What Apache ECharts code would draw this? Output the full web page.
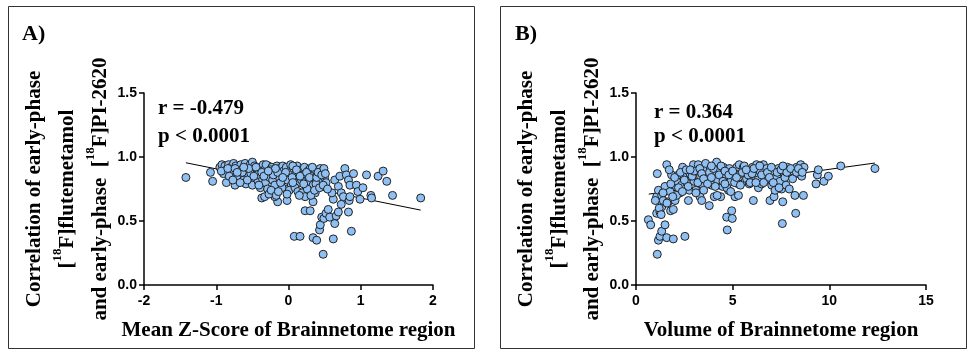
<!DOCTYPE html>
<html>
<head>
<meta charset="utf-8">
<script src="https://cdn.jsdelivr.net/npm/echarts@6/dist/echarts.min.js"></script>
<style>
  html, body { margin: 0; padding: 0; background: #fff; }
  #chart { width: 969px; height: 355px; }
</style>
</head>
<body>
<div id="chart"></div>
<script>
// panel A: mean z-score vs correlation
const scatterA = [
  [-1.42,0.84],[-1.08,0.88],[-1.05,0.81],[-0.86,0.80],[-0.74,0.78],[-0.39,0.77],[-0.37,0.68],[-0.33,0.69],
  [-0.15,0.65],[-0.19,0.69],[-0.02,0.66],[0.08,0.38],[0.16,0.38],[0.23,0.58],[0.30,0.58],[0.34,0.65],
  [0.37,0.72],[0.34,0.37],[0.39,0.35],[0.43,0.43],[0.44,0.47],[0.46,0.53],[0.48,0.24],[0.49,0.52],
  [0.52,0.56],[0.55,0.59],[0.57,0.53],[0.62,0.36],[0.64,0.48],[0.66,0.54],[0.69,0.57],[0.62,0.67],
  [0.60,0.72],[0.64,0.82],[0.71,0.85],[0.69,0.77],[0.73,0.72],[0.76,0.69],[0.73,0.63],[0.78,0.91],
  [0.80,0.86],[0.83,0.82],[0.85,0.78],[0.83,0.57],[0.84,0.66],[0.85,0.69],[0.87,0.42],[0.90,0.87],
  [0.94,0.78],[0.96,0.73],[0.99,0.67],[1.03,0.76],[1.08,0.86],[1.14,0.70],[1.15,0.68],[1.24,0.85],
  [1.31,0.89],[1.36,0.81],[1.44,0.70],[1.83,0.68],
  [-0.95,0.92],[-0.92,0.94],[-0.88,0.93],[-0.86,0.90],[-0.90,0.87],
  [-0.83,0.94],[-0.80,0.92],[-0.78,0.88],[-0.76,0.95],[-0.82,0.85],
  [-0.73,0.93],[-0.70,0.90],[-0.68,0.87],[-0.72,0.84],[-0.66,0.94],
  [-0.63,0.91],[-0.60,0.95],[-0.58,0.88],[-0.62,0.82],[-0.56,0.85],[-0.59,0.79],
  [-0.53,0.94],[-0.50,0.96],[-0.48,0.90],[-0.52,0.87],[-0.46,0.83],[-0.50,0.78],[-0.47,0.93],
  [-0.43,0.89],[-0.40,0.86],[-0.38,0.92],[-0.42,0.81],[-0.36,0.83],[-0.39,0.76],[-0.35,0.94],
  [-0.33,0.90],[-0.30,0.87],[-0.28,0.93],[-0.32,0.80],[-0.26,0.84],[-0.29,0.75],[-0.31,0.94],[-0.27,0.71],
  [-0.23,0.92],[-0.20,0.88],[-0.18,0.85],[-0.22,0.82],[-0.16,0.93],[-0.19,0.78],[-0.24,0.74],[-0.17,0.70],
  [-0.13,0.91],[-0.10,0.87],[-0.08,0.93],[-0.12,0.83],[-0.06,0.80],[-0.09,0.76],[-0.14,0.73],[-0.07,0.89],
  [-0.03,0.92],[0.00,0.86],[0.02,0.89],[-0.02,0.82],[0.04,0.78],[0.01,0.74],[0.03,0.94],
  [0.07,0.91],[0.10,0.87],[0.12,0.93],[0.08,0.83],[0.14,0.80],[0.09,0.76],[0.13,0.73],
  [0.17,0.90],[0.20,0.86],[0.22,0.92],[0.18,0.82],[0.24,0.77],[0.19,0.72],[0.23,0.69],
  [0.27,0.89],[0.30,0.91],[0.32,0.85],[0.28,0.81],[0.34,0.78],[0.26,0.75],[0.31,0.70],
  [0.37,0.90],[0.40,0.86],[0.42,0.82],[0.38,0.79],[0.44,0.91],[0.36,0.74],[0.43,0.76],
  [0.47,0.89],[0.50,0.84],[0.52,0.80],[0.48,0.78],[0.54,0.75],
  [-0.93,0.89],[-0.84,0.91],[-0.74,0.91],[-0.64,0.88],[-0.55,0.91],[-0.45,0.92],[-0.44,0.86],[-0.37,0.88],
  [-0.34,0.85],[-0.25,0.90],[-0.21,0.86],[-0.15,0.88],[-0.11,0.80],[-0.04,0.88],[0.05,0.84],[0.06,0.93],
  [0.11,0.90],[0.16,0.85],[0.21,0.79],[0.25,0.88],[0.29,0.84],[0.33,0.92],[0.39,0.84],[0.41,0.88],
  [0.46,0.86],[0.49,0.91],[0.51,0.87],[-0.57,0.82],[-0.67,0.80],[-0.77,0.82],[-0.41,0.78],[-0.02,0.71],
  [0.15,0.70],[0.06,0.80],[-0.08,0.84],[-0.18,0.91],[-0.28,0.89],[-0.48,0.85],[-0.62,0.92],[-0.71,0.88]
];
const fitA = [[-1.42, 0.955], [1.83, 0.585]];

// panel B: region volume vs correlation
const scatterB = [
  [0.64,0.51],[0.76,0.47],[1.10,0.24],[1.16,0.35],[1.24,0.38],[1.33,0.42],[1.50,0.47],[1.59,0.37],
  [1.93,0.36],[2.53,0.38],[1.07,0.56],[1.24,0.57],[1.33,0.61],[1.21,0.66],[1.07,0.69],[1.10,0.87],
  [1.16,0.74],[1.33,0.70],[1.41,0.66],[1.50,0.77],[1.59,0.94],[1.67,0.65],[1.76,0.73],[1.79,0.58],
  [1.93,0.59],[1.84,0.86],[1.72,0.90],[1.97,0.78],[2.02,0.66],[2.10,0.81],[2.19,0.86],[2.28,0.72],
  [2.36,0.78],[2.41,0.92],[2.48,0.85],[2.62,0.80],[2.71,0.66],[2.76,0.74],[2.79,0.87],[2.97,0.94],
  [3.00,0.81],[3.10,0.74],[3.14,0.89],[3.22,0.94],[3.31,0.69],[3.34,0.85],[3.40,0.66],[3.48,0.77],
  [3.57,0.91],[3.66,0.82],[3.79,0.62],[3.83,0.92],[3.91,0.78],[4.00,0.86],[4.05,0.69],[4.17,0.96],
  [4.21,0.82],[4.31,0.90],[4.38,0.69],[4.48,0.77],[4.52,0.92],[4.66,0.85],[4.69,0.53],[4.72,0.43],
  [4.78,0.74],[4.83,0.91],[4.90,0.81],[4.95,0.58],[4.98,0.52],[5.07,0.85],[5.12,0.69],[5.21,0.92],
  [5.29,0.79],[5.34,0.94],[5.41,0.87],[5.55,0.92],[5.64,0.81],[5.72,0.83],[5.86,0.79],[5.93,0.89],
  [6.03,0.92],[6.07,0.66],[6.16,0.85],[6.24,0.94],[6.33,0.76],[6.41,0.89],[6.50,0.79],[6.59,0.94],
  [6.67,0.86],[6.76,0.91],[6.84,0.82],[6.93,0.66],[7.02,0.78],[7.07,0.89],[7.14,0.69],[7.19,0.74],
  [7.28,0.85],[7.36,0.91],[7.45,0.81],[7.53,0.75],[7.59,0.65],[7.57,0.48],[7.66,0.87],[7.76,0.78],
  [7.83,0.92],[7.93,0.75],[8.00,0.85],[8.14,0.89],[8.22,0.70],[8.26,0.56],[8.31,0.92],[8.40,0.87],
  [8.52,0.94],[8.57,0.85],[8.66,0.70],[8.69,0.92],[9.31,0.79],[9.38,0.86],[9.43,0.90],[9.72,0.81],
  [9.95,0.85],[10.59,0.93],[12.36,0.91],
  [1.8,0.79],[2.0,0.84],[2.2,0.76],[2.3,0.88],[2.5,0.82],[2.6,0.90],[2.7,0.77],[2.9,0.85],
  [3.0,0.89],[3.2,0.80],[3.3,0.91],[3.4,0.87],[3.5,0.83],[3.6,0.95],[3.7,0.79],[3.8,0.88],
  [3.9,0.84],[4.0,0.91],[4.1,0.77],[4.3,0.86],[4.4,0.93],[4.5,0.81],[4.6,0.89],[4.7,0.76],
  [4.8,0.86],[5.0,0.89],[5.1,0.80],[5.2,0.84],[5.4,0.78],[5.5,0.88],[5.6,0.93],[5.8,0.86],
  [5.9,0.80],[6.0,0.87],[6.1,0.91],[6.3,0.82],[6.4,0.93],[6.5,0.86],[6.6,0.80],[6.8,0.88],
  [6.9,0.84],[7.0,0.92],[7.1,0.80],[7.3,0.88],[7.4,0.76],[7.5,0.90],[7.7,0.84],[7.8,0.88],
  [8.0,0.91],[8.1,0.83],[8.3,0.88],[8.4,0.91],[8.6,0.88],[2.1,0.70],[2.4,0.73],[3.1,0.72],
  [3.5,0.74],[4.2,0.70],[4.9,0.73],[5.3,0.70],[1.2,0.60],[1.4,0.72],[1.0,0.66],[1.3,0.55],
  [1.6,0.64],[1.9,0.69],[2.8,0.90],[3.9,0.93],[4.6,0.79],[5.7,0.90],[6.2,0.80],[7.6,0.93]
];
const fitB = [[0.66, 0.71], [12.36, 0.953]];

const statsA = ['r = -0.479', 'p < 0.0001'];
const statsB = ['r = 0.364', 'p < 0.0001'];
const panelLabels = ['A)', 'B)'];
const xTitles = ['Mean Z-Score of Brainnetome region', 'Volume of Brainnetome region'];
const yTitle = '{t|Correlation of early-phase}\n{t|[}{s|18}{t|F]flutemetamol}\n{t|and early-phase  [}{s|18}{t|F]PI-2620}';

const serif = '"Liberation Serif", "Times New Roman", serif';
const sans = '"Liberation Sans", Arial, sans-serif';

function xAxisOf(idx, min, max, interval) {
  return {
    gridIndex: idx, type: 'value', min: min, max: max, interval: interval,
    name: xTitles[idx], nameLocation: 'middle', nameGap: 35,
    nameTextStyle: { fontFamily: serif, fontWeight: 'bold', fontSize: 21, color: '#000' },
    axisLine: { onZero: false, lineStyle: { color: '#000', width: 1.5 } },
    axisTick: { length: 5, lineStyle: { color: '#000', width: 1.5 } },
    axisLabel: { margin: 9, fontFamily: sans, fontWeight: 'bold', fontSize: 14, color: '#000' },
    splitLine: { show: false }
  };
}
function yAxisOf(idx) {
  return {
    gridIndex: idx, type: 'value', min: 0, max: 1.5, interval: 0.5,
    name: yTitle, nameLocation: 'middle', nameGap: 27, nameRotate: 90,
    nameTextStyle: {
      color: '#000',
      rich: {
        t: { fontFamily: serif, fontWeight: 'bold', fontSize: 21, lineHeight: 33, color: '#000' },
        s: { fontFamily: serif, fontWeight: 'bold', fontSize: 13, lineHeight: 22, verticalAlign: 'top', color: '#000' }
      }
    },
    axisLine: { onZero: false, lineStyle: { color: '#000', width: 1.5 } },
    axisTick: { length: 5, lineStyle: { color: '#000', width: 1.5 } },
    axisLabel: { margin: 7, fontFamily: sans, fontWeight: 'bold', fontSize: 14, color: '#000',
      formatter: v => v.toFixed(1) },
    splitLine: { show: false }
  };
}
function dots(idx, data) {
  return {
    type: 'scatter', xAxisIndex: idx, yAxisIndex: idx, data: data,
    symbolSize: 8, z: 3,
    itemStyle: { color: '#8fc0f4', borderColor: '#222', borderWidth: 1, opacity: 1 }
  };
}
function fit(idx, data) {
  return {
    type: 'line', xAxisIndex: idx, yAxisIndex: idx, data: data,
    symbol: 'none', z: 2, lineStyle: { color: '#000', width: 1 }
  };
}
function txt(left, top, text, size) {
  return { type: 'text', left: left, top: top,
    style: { text: text, fontFamily: serif, fontWeight: 'bold', fontSize: size, fill: '#000' } };
}

const chart = echarts.init(document.getElementById('chart'));
chart.setOption({
  animation: false,
  backgroundColor: '#fff',
  grid: [
    { left: 144, top: 93, width: 289, height: 192 },
    { left: 636, top: 93, width: 290, height: 192 }
  ],
  xAxis: [xAxisOf(0, -2, 2, 1), xAxisOf(1, 0, 15, 5)],
  yAxis: [yAxisOf(0), yAxisOf(1)],
  series: [dots(0, scatterA), fit(0, fitA), dots(1, scatterB), fit(1, fitB)],
  graphic: [
    { type: 'rect', shape: { x: 8.5, y: 6.5, width: 466, height: 342 },
      style: { fill: 'none', stroke: '#333', lineWidth: 1 } },
    { type: 'rect', shape: { x: 500.5, y: 6.5, width: 466, height: 342 },
      style: { fill: 'none', stroke: '#333', lineWidth: 1 } },
    txt(22, 23, panelLabels[0], 22),
    txt(515, 23, panelLabels[1], 22),
    txt(158, 98, statsA[0], 21),
    txt(158, 126, statsA[1], 21),
    txt(654, 102, statsB[0], 21),
    txt(654, 126, statsB[1], 21)
  ]
});
</script>
</body>
</html>
